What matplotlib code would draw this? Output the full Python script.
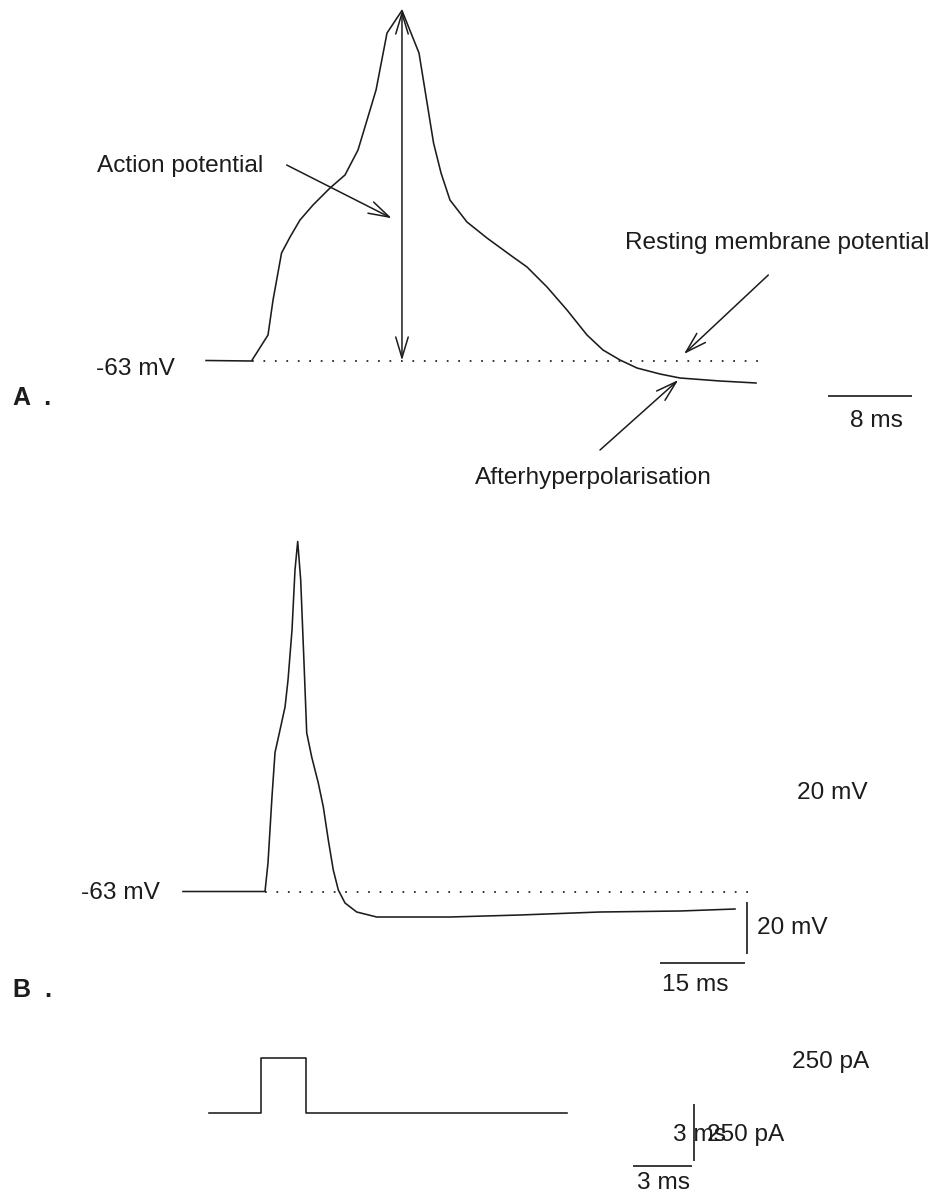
import matplotlib
matplotlib.use("Agg")
import matplotlib.pyplot as plt

W, H = 938, 1193
DPI = 100

# Panel A: expanded view of a single action potential (time in ms, membrane potential in mV)
a_time_ms = [0.00, 4.44, 6.05, 6.54, 7.37, 8.20, 9.17, 10.44, 12.10, 13.56, 14.83,
             15.80, 16.59, 17.66, 19.12, 20.78, 22.20, 22.93, 23.80, 25.46, 27.41,
             29.95, 31.32, 33.27, 35.22, 37.17, 38.73, 40.39, 42.05, 44.29, 46.24,
             50.15, 53.66]
a_vm_mv = [-63.0, -63.2, -52.8, -38.8, -20.0, -13.6, -6.8, -0.8, 6.0, 11.2, 21.2,
           34.4, 45.2, 68.0, 77.0, 60.0, 24.0, 12.0, 1.2, -7.6, -14.0,
           -21.6, -25.6, -33.6, -42.8, -52.8, -58.8, -62.8, -66.0, -68.4, -70.0,
           -71.2, -72.0]

# Panel B: evoked action potential on a slower time base
b_time_ms = [0.00, 14.82, 15.36, 16.09, 16.63, 17.53, 18.44, 18.98, 19.70, 20.24,
             20.73, 21.27, 21.87, 22.36, 23.26, 24.45, 25.36, 26.26, 27.16, 28.07,
             29.28, 31.39, 35.01, 48.25, 60.91, 75.36, 89.82, 99.76]
b_vm_mv = [-63.0, -63.0, -51.6, -24.8, -7.4, 1.6, 10.8, 21.6, 41.6, 65.6,
           77.0, 61.6, 28.4, 0.4, -9.2, -19.6, -29.2, -42.4, -54.4, -62.4,
           -67.6, -71.2, -73.2, -73.2, -72.4, -71.2, -70.8, -70.0]

# Injected current step (pA)
c_time_ms = [0.00, 2.72, 2.72, 5.09, 5.09, 18.84]
c_current_pa = [0, 0, 250, 250, 0, 0]

rest_mv = -63.0

INK = "#1c1c1c"
BAR = "#3a3a3a"
FONT = "Liberation Sans"
FS = 17.6

fig = plt.figure(figsize=(W / DPI, H / DPI), dpi=DPI)
fig.patch.set_facecolor("white")


def overlay_axes(x_px, y_px, px_per_x, px_per_y, x_val, y_val):
    """Transparent full-figure axes whose data value (x_val, y_val) sits at pixel (x_px, y_px)."""
    ax = fig.add_axes([0, 0, 1, 1])
    ax.set_xlim(x_val - x_px / px_per_x, x_val + (W - x_px) / px_per_x)
    ax.set_ylim(y_val - (H - y_px) / px_per_y, y_val + y_px / px_per_y)
    ax.axis("off")
    ax.patch.set_alpha(0)
    return ax


def label(x, y, s, ha="left", va="center", **kw):
    kw.setdefault("fontsize", FS)
    kw.setdefault("family", FONT)
    kw.setdefault("color", INK)
    fig.text(x / W, 1 - y / H, s, ha=ha, va=va, **kw)


def arrow(ax, start, end, style="->"):
    ax.annotate("", xy=end, xytext=start,
                arrowprops=dict(arrowstyle=style + ",head_length=1.5,head_width=0.45",
                                mutation_scale=10, lw=1.1, color=INK,
                                shrinkA=0, shrinkB=0))


dot = (0, (1, 5.6))

# ---------------- Panel A ----------------
axA = overlay_axes(206, 360.5, 10.25, 2.5, 0.0, rest_mv)
axA.plot(a_time_ms, a_vm_mv, color=INK, lw=1.15)
axA.plot([a_time_ms[1], 54.7], [rest_mv, rest_mv], color=INK, lw=1.25, linestyle=dot)
peak_i = a_vm_mv.index(max(a_vm_mv))
arrow(axA, (a_time_ms[peak_i], rest_mv), (a_time_ms[peak_i], a_vm_mv[peak_i]), "<->")
arrow(axA, (7.87, 15.2), (18.12, -6.1))
arrow(axA, (54.86, -28.8), (46.63, -60.4))
arrow(axA, (38.44, -98.8), (46.08, -70.8))
# 8 ms scale bar
axA.plot([60.78, 60.78 + 8], [-77.2, -77.2], color=BAR, lw=1.4)

label(97, 166, "Action potential")
label(625, 243, "Resting membrane potential")
label(475, 478, "Afterhyperpolarisation")
label(175, 369, "-63 mV", ha="right")
label(876, 421, "8 ms", ha="center")
label(13, 398, "A  .", fontweight="bold", fontsize=18)

# ---------------- Panel B ----------------
axB = overlay_axes(183, 891.5, 83 / 15, 2.5, 0.0, rest_mv)
axB.plot(b_time_ms, b_vm_mv, color=INK, lw=1.15)
axB.plot([b_time_ms[1], 103.0], [rest_mv, rest_mv], color=INK, lw=1.25, linestyle=dot)
# scale bars: 20 mV and 15 ms
axB.plot([102.0, 102.0], [-87.6, -87.6 + 20], color=BAR, lw=1.4)
axB.plot([86.3, 86.3 + 15], [-91.6, -91.6], color=BAR, lw=1.4)

label(160, 893, "-63 mV", ha="right")
label(797, 793, "20 mV")
label(757, 928, "20 mV")
label(695, 985, "15 ms", ha="center")
label(13, 990, "B  .", fontweight="bold", fontsize=18)

# ---------------- Current step ----------------
axC = overlay_axes(209, 1112.5, 19.0, 0.22, 0.0, 0.0)
axC.plot(c_time_ms, c_current_pa, color=INK, lw=1.15)
# scale bars: 3 ms and 250 pA
axC.plot([22.37, 22.37 + 3], [-243, -243], color=BAR, lw=1.4)
axC.plot([25.53, 25.53], [-216, -216 + 250], color=BAR, lw=1.4)

label(792, 1062, "250 pA")
label(673, 1135, "3 ms")
label(707, 1135, "250 pA")
label(637, 1183, "3 ms")

fig.savefig("out.png", dpi=DPI, facecolor="white")
